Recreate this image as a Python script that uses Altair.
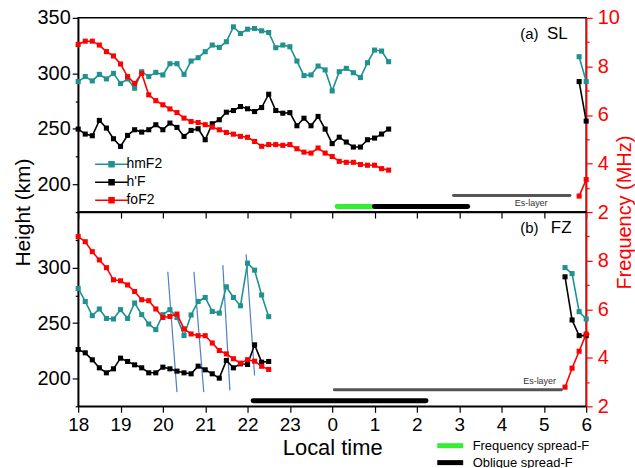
import altair as alt
import pandas as pd

FONT = "Liberation Sans"
TEAL = "#1f9190"
RED = "#ff0000"
BLUE = "#4f7fc8"
GREEN = "#33ee33"
GREY = "#555555"

# ---------------- data (local time as HH:MM) -------------
times_a = ["18:00", "18:10", "18:20", "18:30", "18:40", "18:50", "19:00", "19:10", "19:20",
           "19:30", "19:40", "19:50", "20:00", "20:10", "20:20", "20:30", "20:40", "20:50",
           "21:00", "21:10", "21:20", "21:30", "21:40", "21:50", "22:00", "22:10", "22:20",
           "22:30", "22:40", "22:50", "23:00", "23:10", "23:20", "23:30", "23:40", "23:50",
           "00:00", "00:10", "00:20", "00:30", "00:40", "00:50", "01:00", "01:10", "01:20"]
hmF2_a = [292.6, 297.1, 293.2, 299.1, 295.0, 300.0, 290.8, 295.0, 286.6, 301.5,
          297.1, 300.9, 298.6, 308.7, 308.7, 299.1, 311.1, 314.1, 319.5, 325.5,
          323.4, 328.5, 341.9, 335.9, 339.8, 340.4, 338.3, 336.8, 323.1, 325.5,
          324.0, 311.1, 298.0, 298.6, 306.6, 303.1, 284.2, 301.5, 304.5, 300.6,
          296.2, 309.6, 321.0, 320.1, 310.5]
hF_a = [249.8, 245.3, 243.8, 257.6, 250.7, 241.1, 234.2, 244.1, 249.2, 247.1,
        249.2, 253.7, 249.2, 255.2, 251.3, 243.2, 248.6, 250.1, 240.2, 254.6,
        258.2, 265.0, 266.5, 270.1, 268.1, 265.6, 269.2, 281.2, 266.5, 264.1,
        264.6, 252.8, 259.6, 252.8, 261.2, 249.8, 236.7, 242.5, 238.1, 233.6,
        233.6, 240.2, 241.7, 245.3, 249.8]
foF2_a = [8.91, 9.04, 9.04, 8.88, 8.61, 8.43, 8.10, 7.58, 7.30, 7.71,
          6.83, 6.59, 6.42, 6.25, 6.10, 5.87, 5.73, 5.69, 5.60, 5.50,
          5.39, 5.28, 5.21, 5.12, 5.08, 4.91, 4.71, 4.78, 4.78, 4.75,
          4.78, 4.61, 4.47, 4.43, 4.64, 4.43, 4.29, 4.09, 4.05, 4.05,
          3.96, 3.93, 3.93, 3.79, 3.73]
times_a_late = ["05:50", "06:00"]
hmF2_a_late = [315.0, 292.6]
hF_a_late = [292.6, 257.0]
foF2_a_late = [2.66, 3.34]

times_b = ["18:00", "18:10", "18:20", "18:30", "18:40", "18:50", "19:00", "19:10", "19:20",
           "19:30", "19:40", "19:50", "20:00", "20:10", "20:20", "20:30", "20:40", "20:50",
           "21:00", "21:10", "21:20", "21:30", "21:40", "21:50", "22:00", "22:10", "22:20",
           "22:30"]
hmF2_b = [281.2, 269.5, 256.7, 262.7, 254.2, 253.7, 262.1, 254.2, 268.1, 257.6,
          249.2, 244.1, 257.6, 262.1, 255.1, 238.8, 257.3, 269.5, 273.1, 260.5,
          259.0, 282.7, 273.1, 265.6, 304.0, 297.7, 275.3, 255.8]
hF_b = [226.2, 223.2, 216.9, 209.7, 205.2, 208.8, 218.4, 215.4, 212.4, 209.7,
        205.2, 205.2, 210.3, 208.8, 206.7, 205.2, 204.3, 211.2, 207.9, 204.3,
        200.4, 216.3, 209.7, 213.3, 212.7, 230.4, 214.8, 215.4]
foF2_b = [8.99, 8.78, 8.37, 8.03, 7.71, 7.21, 7.17, 7.00, 6.73, 6.39,
          6.35, 6.01, 5.66, 5.70, 5.80, 5.19, 4.98, 4.91, 4.91, 4.61,
          4.30, 4.16, 3.96, 3.78, 3.92, 3.86, 3.65, 3.52]
times_b_late = ["05:30", "05:40", "05:50", "06:00"]
hmF2_b_late = [300.0, 294.6, 260.3, 253.7]
hF_b_late = [291.7, 252.8, 238.7, 238.7]
foF2_b_late = [2.79, 3.57, 4.27, 4.98]

# Horizontal bars: (label, start, end, height level)
es_a = ["Es-layer", "02:52", "05:37", 190]
spread_a_kind = ["Frequency spread-F", "Oblique spread-F"]
spread_a_start = ["00:07", "01:00"]
spread_a_end = ["01:00", "03:12"]
spread_level = 180
es_b = ["Es-layer", "00:03", "05:25", 190]
spread_b_kind = ["Oblique spread-F"]
spread_b_start = ["22:08"]
spread_b_end = ["02:13"]

# slanted blue guide lines in panel (b)
blue_t1 = ["20:07", "20:44", "21:25", "21:58"]
blue_h1 = [296.2, 296.2, 302.2, 312.0]
blue_t2 = ["20:20", "20:58", "21:35", "22:10"]
blue_h2 = [187.8, 187.8, 189.4, 202.8]

series_names = ["hmF2", "h'F", "foF2"]
series_colors = [TEAL, "#000000", RED]
spread_names = ["Frequency spread-F", "Oblique spread-F"]
spread_colors = [GREEN, "#000000"]
hour_ticks = [18, 19, 20, 21, 22, 23, 24, 25, 26, 27, 28, 29, 30]


def hrs(s):
    h, m = s.split(":")
    v = int(h) + int(m) / 60.0
    return v + 24 if v < 12 else v


def series_df(times, vals, name, seg, col):
    return pd.DataFrame({"t": [hrs(x) for x in times], col: vals,
                         "series": name, "seg": f"{name}-{seg}"})


# ---------------- scales & axes ----------------
xs = alt.Scale(domain=[18, 30], nice=False, zero=False)
ysL = alt.Scale(domain=[175, 350], nice=False, zero=False)
ysR = alt.Scale(domain=[2, 10], nice=False, zero=False)
cscale = alt.Scale(domain=series_names, range=series_colors)
sscale = alt.Scale(domain=spread_names, range=spread_colors)

tick_cond_L = {"condition": {"test": "datum.value % 50 === 0", "value": 6}, "value": 3}
tick_cond_R = {"condition": {"test": "datum.value % 2 === 0", "value": 6}, "value": 3}

common_ax = dict(grid=False, labelFont=FONT, labelOverlap=False,
                 titleFont=FONT, titleFontWeight="normal")


def x_axis(bottom):
    if bottom:
        return alt.Axis(values=hour_ticks,
                        labelExpr="datum.value >= 24 ? datum.value - 24 : datum.value",
                        labelColor="black", labelPadding=3, labelFlush=False,
                        labelFontSize=19,
                        tickSize=6, tickColor="black", tickWidth=1.2,
                        domainColor="black", domainWidth=1.5,
                        title="Local time", titleColor="black", titleY=41,
                        titleFontSize=22, titleBaseline="middle", **common_ax)
    return alt.Axis(values=hour_ticks, labels=False, tickSize=6, tickColor="black",
                    tickWidth=1.2, domainColor="black", domainWidth=1.5, title=None,
                    grid=False)


def yl_axis(top):
    vals = [175, 200, 225, 250, 275, 300, 325, 350] if top else [175, 200, 225, 250, 275, 300, 325]
    extra = dict(title="Height (km)", titleX=-55, titleY=195, titleAngle=270,
                 titleAlign="center", titleBaseline="middle", titleColor="black",
                 titleFontSize=21) if top else dict(title=None)
    return alt.Axis(values=vals, labelExpr="datum.value % 50 === 0 ? datum.label : ''",
                    labelColor="black", labelPadding=2, labelFontSize=20,
                    tickSize=tick_cond_L,
                    tickColor="black", tickWidth=1.2, domainColor="black", domainWidth=1.5,
                    **extra, **common_ax)


def yr_axis(top):
    vals = [2, 3, 4, 5, 6, 7, 8, 9, 10] if top else [2, 3, 4, 5, 6, 7, 8, 9]
    extra = dict(title="Frequency (MHz)", titleX=38, titleY=195, titleAngle=270,
                 titleAlign="center", titleBaseline="middle", titleColor=RED,
                 titleFontSize=20) if top else dict(title=None)
    return alt.Axis(orient="right", values=vals,
                    labelExpr="datum.value % 2 === 0 ? datum.label : ''",
                    labelColor=RED, labelPadding=5, labelFontSize=20,
                    tickSize=tick_cond_R, tickColor=RED,
                    tickWidth=1.2, domainColor=RED, domainWidth=1.5, **extra, **common_ax)


LEG_PATH = "M-3.3,0H3.3M-0.5,-0.5H0.5V0.5H-0.5ZM-0.2,-0.2H0.2V0.2H-0.2Z"


def panel(top, hmF2_parts, hF_parts, foF2_parts, es, sp_kind, sp_start, sp_end,
          labels, es_text, blue=None):
    hdf = pd.concat([series_df(t, v, "hmF2", i, "h") for i, (t, v) in enumerate(hmF2_parts)] +
                    [series_df(t, v, "h'F", i, "h") for i, (t, v) in enumerate(hF_parts)])
    fdf = pd.concat([series_df(t, v, "foF2", i, "f") for i, (t, v) in enumerate(foF2_parts)])

    X = alt.X("t:Q", scale=xs, axis=x_axis(not top))
    YL = alt.Y("h:Q", scale=ysL, axis=yl_axis(top))
    YR = alt.Y("f:Q", scale=ysR, axis=yr_axis(top))

    if top:
        leg = alt.Legend(orient="none", legendX=26.5, legendY=140, title=None,
                         symbolType=LEG_PATH, symbolSize=100, symbolStrokeWidth=1.5,
                         labelFont=FONT, labelFontSize=14, labelColor="black",
                         labelOffset=8, rowPadding=4, padding=0)
    else:
        leg = None
    color = alt.Color("series:N", scale=cscale, legend=leg)
    fill = alt.Fill("series:N", scale=cscale, legend=None)

    line_h = alt.Chart(hdf).mark_line(strokeWidth=1.6).encode(
        x=X, y=YL, color=color, detail="seg:N")
    pts_h = alt.Chart(hdf).mark_square(size=26, opacity=1, filled=True).encode(
        x=X, y=YL, fill=fill)

    es_df = pd.DataFrame({"t": [hrs(es[1])], "t2": [hrs(es[2])], "h": [es[3]]})
    es_bar = alt.Chart(es_df).mark_rule(color=GREY, strokeWidth=3, strokeCap="round").encode(
        x=X, x2="t2:Q", y=YL)

    # spread-F bars as two-point lines (one line per bar)
    rows = []
    for i, (k, s, e) in enumerate(zip(sp_kind, sp_start, sp_end)):
        rows.append({"kind": k, "bar": i, "t": hrs(s), "h": spread_level})
        rows.append({"kind": k, "bar": i, "t": hrs(e), "h": spread_level})
    sp_df = pd.DataFrame(rows)
    if top:
        sleg = None
    else:
        sleg = alt.Legend(orient="none", legendX=367, legendY=228, title=None,
                          symbolType="M-6.5,0H6.5", symbolSize=16, symbolStrokeWidth=5,
                          labelFont=FONT, labelFontSize=13, labelColor="black",
                          labelOffset=16, rowPadding=-9, padding=0)
    sp_bar = alt.Chart(sp_df).mark_line(strokeWidth=5, strokeCap="round").encode(
        x=X, y=YL, detail="bar:N",
        stroke=alt.Stroke("kind:N", scale=sscale, legend=sleg))

    lab_df = pd.DataFrame(labels, columns=["label", "t", "h", "size"])
    lab = alt.Chart(lab_df).mark_text(font=FONT, color="black", baseline="middle",
                                      align="center").encode(
        x=X, y=YL, text="label:N", size=alt.Size("size:Q", scale=None, legend=None))
    es_lab_df = pd.DataFrame([es_text], columns=["label", "t", "h"])
    es_lab = alt.Chart(es_lab_df).mark_text(font=FONT, color="#333333", fontSize=9,
                                            baseline="middle", align="center").encode(
        x=X, y=YL, text="label:N")

    left_layers = [line_h, pts_h, es_bar, sp_bar, lab, es_lab]
    if blue is not None:
        bdf = pd.DataFrame({"t": [hrs(s) for s in blue[0]], "h": blue[1],
                            "t2": [hrs(s) for s in blue[2]], "h2": blue[3]})
        left_layers.insert(0, alt.Chart(bdf).mark_rule(color=BLUE, strokeWidth=1.2).encode(
            x=X, y=YL, x2="t2:Q", y2="h2:Q"))

    line_f = alt.Chart(fdf).mark_line(strokeWidth=1.6).encode(
        x=X, y=YR, color=color, detail="seg:N")
    pts_f = alt.Chart(fdf).mark_square(size=26, opacity=1, filled=True).encode(
        x=X, y=YR, fill=fill)

    left = alt.layer(*left_layers)
    right = alt.layer(line_f, pts_f)
    return alt.layer(left, right).resolve_scale(y="independent").properties(
        width=510, height=195)


top_panel = panel(
    True,
    [(times_a, hmF2_a), (times_a_late, hmF2_a_late)],
    [(times_a, hF_a), (times_a_late, hF_a_late)],
    [(times_a, foF2_a), (times_a_late, foF2_a_late)],
    es_a, spread_a_kind, spread_a_start, spread_a_end,
    [("(a)", 28.66, 335.6, 15), ("SL", 29.32, 335.6, 17)],
    ("Es-layer", 28.70, 183.1),
)
bottom_panel = panel(
    False,
    [(times_b, hmF2_b), (times_b_late, hmF2_b_late)],
    [(times_b, hF_b), (times_b_late, hF_b_late)],
    [(times_b, foF2_b), (times_b_late, foF2_b_late)],
    es_b, spread_b_kind, spread_b_start, spread_b_end,
    [("(b)", 28.66, 335.6, 15), ("FZ", 29.41, 335.6, 17)],
    ("Es-layer", 28.90, 197.4),
    blue=(blue_t1, blue_h1, blue_t2, blue_h2),
)

chart = alt.vconcat(top_panel, bottom_panel, spacing=0, bounds="flush").resolve_scale(
    color="independent", fill="independent", stroke="independent", x="independent"
).properties(
    padding={"left": 11.5, "top": 6, "right": 0, "bottom": 0},
    background="white",
).configure_view(stroke="black", strokeWidth=1.5)

chart.save("out.html", embed_options={"renderer": "svg", "actions": False})
